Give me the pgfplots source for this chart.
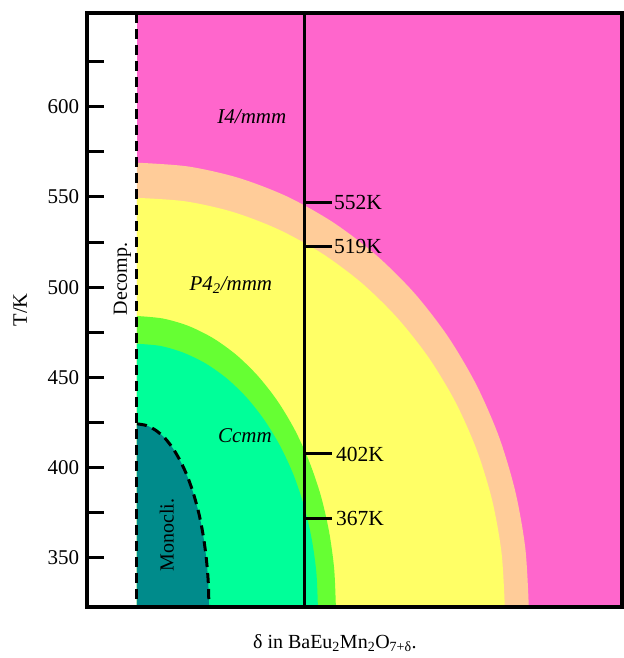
\documentclass[border=0pt]{standalone}
\usepackage{pgfplots}
\pgfplotsset{compat=1.18}
\usepackage{fontspec}
\setmainfont{Liberation Serif}
\usetikzlibrary{calc}
\definecolor{cpink}{RGB}{255,102,204}
\definecolor{cpeach}{RGB}{255,204,153}
\definecolor{cyellow}{RGB}{255,255,102}
\definecolor{cgreen}{RGB}{102,255,51}
\definecolor{cspring}{RGB}{0,255,153}
\definecolor{cteal}{RGB}{0,139,139}
\begin{document}
\fontsize{20}{24}\selectfont
\begin{tikzpicture}
\begin{axis}[
  scale only axis, width=535pt, height=594pt,
  xmin=-50, xmax=485, ymin=322.8, ymax=652,
  axis on top,
  axis line style={black, line width=4pt},
  xtick=\empty,
  ytick={350,400,450,500,550,600},
  minor ytick={375,425,475,525,575,625},
  ytick pos=left, tick align=inside,
  major tick length=17pt, minor tick length=17pt,
  every tick/.style={black, line width=3pt},
  /pgf/number format/assume math mode=true,
  yticklabel style={font=\fontsize{21}{24}\selectfont, xshift=-1pt},
  ylabel={T/K},
  ylabel style={at={(axis description cs:-0.125,0.5)}, anchor=center, font=\fontsize{20.5}{24}\selectfont},
  xlabel={δ in BaEu\textsubscript{2}Mn\textsubscript{2}O\textsubscript{7+δ}.},
  xlabel style={at={(axis description cs:0.4636,-0.0606)}, anchor=center, font=\fontsize{20}{24}\selectfont},
]
% I4/mmm region
\addplot[draw=none, fill=cpink] coordinates {(0,318) (485,318) (485,655) (0,655)} -- cycle;
% peach band (outer boundary)
\addplot[smooth, draw=none, fill=cpeach] coordinates {
(392,322.8) (388.6,354.9) (378.6,386.5) (362.2,417.0) (339.5,445.9)
(311.0,472.7) (277.2,496.9) (238.6,518.1) (196.0,536.0) (150.0,550.3)
(101.5,560.6) (51.2,566.9) (0,569.0)} \closedcycle;
% P4_2/mmm region
\addplot[smooth, draw=none, fill=cyellow] coordinates {
(368,322.8) (364.8,352.4) (355.5,381.5) (340.0,409.6) (318.7,436.2)
(292.0,460.8) (260.2,483.1) (224.0,502.7) (184.0,519.1) (140.8,532.2)
(95.2,541.8) (48.0,547.6) (0,549.5)} \closedcycle;
% green band
\addplot[smooth, draw=none, fill=cgreen] coordinates {
(199,322.8) (197.3,343.8) (192.2,364.5) (183.9,384.5) (172.3,403.4)
(157.9,420.9) (140.7,436.8) (121.1,450.7) (99.5,462.4) (76.2,471.7)
(51.5,478.5) (26.0,482.6) (0,484.0)} \closedcycle;
% Ccmm region
\addplot[smooth, draw=none, fill=cspring] coordinates {
(181,322.8) (179.5,341.8) (174.8,360.5) (167.2,378.6) (156.8,395.7)
(143.6,411.6) (128.0,425.9) (110.2,438.5) (90.5,449.1) (69.3,457.5)
(46.8,463.6) (23.6,467.4) (0,468.6)} \closedcycle;
% Monoclinic region
\addplot[smooth, draw=none, fill=cteal] coordinates {
(72,322.8) (71.4,336.0) (69.5,349.0) (66.5,361.6) (62.4,373.5)
(57.1,384.5) (50.9,394.5) (43.8,403.2) (36.0,410.6) (27.6,416.5)
(18.6,420.7) (9.4,423.3) (0,424.2)} \closedcycle;
% monoclinic dashed boundary
\addplot[smooth, black, line width=3pt, dash pattern=on 10pt off 6pt] coordinates {
(0,424.2) (9.4,423.3) (18.6,420.7) (27.6,416.5) (36.0,410.6) (43.8,403.2)
(50.9,394.5) (57.1,384.5) (62.4,373.5) (66.5,361.6) (69.5,349.0) (71.4,336.0) (72,322.8)};
% decomposition boundary
\addplot[black, line width=3pt, dash pattern=on 10pt off 6pt] coordinates {(0,652) (0,322.8)};
% vertical composition line
\addplot[black, line width=3pt] coordinates {(168,322.8) (168,652)};
\addplot[black, line width=3pt] coordinates {(168,546.8) (195,546.8)};
\addplot[black, line width=3pt] coordinates {(168,522.4) (195,522.4)};
\addplot[black, line width=3pt] coordinates {(168,407.5) (195,407.5)};
\addplot[black, line width=3pt] coordinates {(168,372.0) (195,372.0)};
\node[anchor=west, inner sep=1pt, font=\fontsize{21.5}{24}\selectfont] at (axis cs:196,546.8) {552K};
\node[anchor=west, inner sep=1pt, font=\fontsize{21.5}{24}\selectfont] at (axis cs:196,522.4) {519K};
\node[anchor=west, inner sep=1pt, font=\fontsize{21.5}{24}\selectfont] at (axis cs:198,407.5) {402K};
\node[anchor=west, inner sep=1pt, font=\fontsize{21.5}{24}\selectfont] at (axis cs:198,372.0) {367K};
% phase labels
\node[font=\fontsize{21}{24}\selectfont] at (axis cs:115,594.5) {\itshape I4/mmm};
\node[font=\fontsize{21}{24}\selectfont] at (axis cs:94,501.3) {\itshape P4\textsubscript{2}/mmm};
\node[font=\fontsize{21}{24}\selectfont] at (axis cs:108,417.5) {\itshape Ccmm};
\node[rotate=90] at (axis cs:-14.5,504.6) {Decomp.};
\node[rotate=90] at (axis cs:30,362.6) {Monocli.};
\end{axis}
\path ($(current axis.south west)+(-87pt,-51pt)$) rectangle ($(current axis.north east)+(2pt,13pt)$);
\end{tikzpicture}
\end{document}
